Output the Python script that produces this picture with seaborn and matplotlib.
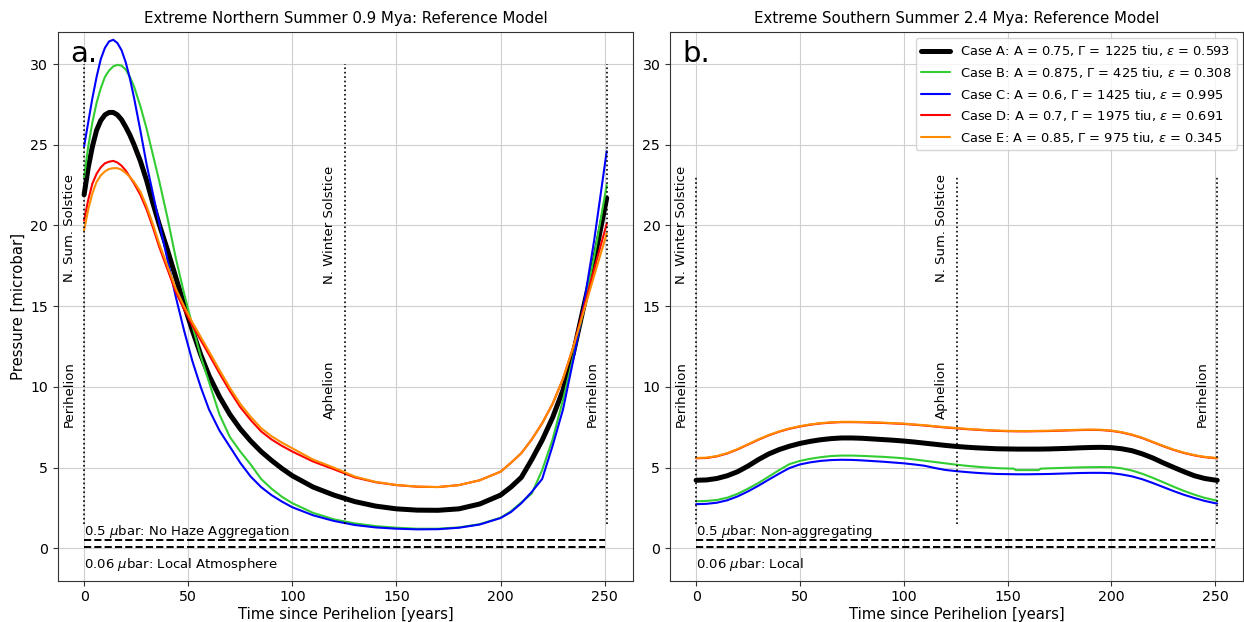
import numpy as np
import pandas as pd
import matplotlib
matplotlib.use("Agg")
import matplotlib.pyplot as plt
import seaborn as sns

# ---------------- data ----------------
# Northern-summer run (0.9 Mya): time since perihelion [yr] and pressure [microbar]
T_N = [0, 2, 4, 6, 8, 10, 12, 14, 16, 18, 20, 22, 24, 27, 30, 33, 36, 40, 44, 48, 52,
       56, 60, 65, 70, 75, 80, 85, 90, 95, 100, 110, 120, 130, 140, 150, 160, 170, 180,
       190, 200, 205, 210, 215, 220, 225, 230, 235, 240, 245, 251]
A_N = [21.9, 23.6, 24.9, 25.9, 26.5, 26.85, 27.0, 27.0, 26.85, 26.55, 26.1, 25.6, 25.0,
       24.0, 22.8, 21.4, 20.1, 18.5, 16.8, 15.1, 13.5, 12.0, 10.7, 9.4, 8.3, 7.4, 6.65,
       6.0, 5.45, 4.95, 4.5, 3.8, 3.3, 2.9, 2.62, 2.45, 2.37, 2.36, 2.45, 2.75, 3.3,
       3.8, 4.4, 5.5, 6.7, 8.1, 9.8, 12.1, 15.0, 17.8, 21.7]
B_N = [23.0, 24.9, 26.4, 27.6, 28.5, 29.2, 29.6, 29.85, 29.95, 29.9, 29.65, 29.2, 28.6,
       27.4, 26.0, 24.4, 22.8, 20.5, 18.0, 15.8, 13.8, 11.9, 10.3, 8.3, 6.9, 6.0, 5.2,
       4.3, 3.7, 3.2, 2.8, 2.2, 1.8, 1.55, 1.38, 1.28, 1.22, 1.22, 1.3, 1.5, 1.9,
       2.3, 2.85, 3.4, 4.85, 6.75, 9.2, 11.9, 14.9, 18.1, 22.5]
C_N = [24.9, 26.4, 27.9, 29.2, 30.3, 31.0, 31.4, 31.5, 31.3, 30.85, 30.1, 29.1, 27.9,
       25.9, 23.8, 22.0, 20.2, 17.9, 15.6, 13.5, 11.6, 10.0, 8.6, 7.3, 6.3, 5.3, 4.45,
       3.8, 3.3, 2.9, 2.55, 2.05, 1.7, 1.45, 1.3, 1.22, 1.18, 1.19, 1.28, 1.48, 1.88,
       2.25, 2.8, 3.5, 4.3, 6.35, 8.6, 11.7, 15.1, 19.1, 24.6]
D_N = [20.3, 21.6, 22.6, 23.2, 23.6, 23.85, 23.95, 24.0, 23.9, 23.7, 23.4, 23.0, 22.6,
       21.9, 21.0, 19.9, 18.7, 17.3, 15.9, 14.8, 13.8, 12.9, 12.0, 10.85, 9.75, 8.75,
       7.95, 7.25, 6.75, 6.35, 6.0, 5.38, 4.9, 4.4, 4.1, 3.92, 3.82, 3.8, 3.92, 4.22,
       4.75, 5.3, 5.9, 6.75, 7.75, 8.95, 10.5, 12.5, 14.9, 17.3, 20.1]
E_N = [19.7, 21.0, 22.0, 22.7, 23.1, 23.35, 23.5, 23.55, 23.55, 23.45, 23.25, 23.0, 22.7,
       22.1, 21.2, 20.1, 18.9, 17.5, 16.1, 15.0, 14.0, 13.1, 12.2, 11.05, 9.95, 8.95,
       8.15, 7.45, 6.95, 6.55, 6.2, 5.5, 5.0, 4.45, 4.12, 3.93, 3.83, 3.8, 3.92, 4.22,
       4.75, 5.3, 5.9, 6.75, 7.75, 8.95, 10.5, 12.5, 14.7, 16.9, 19.5]

# Southern-summer run (2.4 Mya)
T_S = [0, 5, 10, 15, 20, 25, 30, 35, 40, 45, 50, 55, 60, 65, 70, 75, 80, 85, 90, 95,
       100, 105, 110, 115, 120, 125, 130, 135, 140, 145, 150, 155, 160, 165, 170, 175,
       180, 185, 190, 195, 200, 205, 210, 215, 220, 225, 230, 235, 240, 245, 250, 251]
A_S = [4.22, 4.24, 4.33, 4.5, 4.75, 5.1, 5.5, 5.85, 6.12, 6.33, 6.5, 6.63, 6.73, 6.8,
       6.84, 6.84, 6.82, 6.78, 6.74, 6.7, 6.65, 6.59, 6.52, 6.45, 6.38, 6.32, 6.27,
       6.23, 6.2, 6.17, 6.16, 6.15, 6.15, 6.15, 6.16, 6.18, 6.2, 6.23, 6.25, 6.26,
       6.24, 6.17, 6.05, 5.85, 5.6, 5.3, 5.02, 4.75, 4.5, 4.33, 4.23, 4.22]
T_S_B = [0, 5, 10, 15, 20, 25, 30, 35, 40, 45, 50, 55, 60, 65, 70, 75, 80, 85, 90, 95,
         100, 105, 110, 115, 120, 125, 130, 135, 140, 145, 150, 153, 154, 165, 166, 170,
         175, 180, 185, 190, 195, 200, 205, 210, 215, 220, 225, 230, 235, 240, 245, 250, 251]
B_S = [2.92, 2.94, 3.0, 3.14, 3.38, 3.7, 4.05, 4.45, 4.85, 5.22, 5.42, 5.55, 5.65, 5.72,
       5.75, 5.75, 5.73, 5.7, 5.67, 5.63, 5.58, 5.51, 5.43, 5.35, 5.27, 5.19, 5.12,
       5.06, 5.01, 4.97, 4.95, 4.94, 4.85, 4.85, 4.94, 4.96, 4.98, 5.0, 5.02, 5.03,
       5.04, 5.03, 4.96, 4.82, 4.62, 4.37, 4.1, 3.82, 3.56, 3.33, 3.13, 2.98, 2.96]
C_S = [2.74, 2.76, 2.83, 2.98, 3.22, 3.53, 3.88, 4.26, 4.63, 4.98, 5.2, 5.33, 5.42, 5.47,
       5.49, 5.48, 5.45, 5.41, 5.37, 5.32, 5.27, 5.2, 5.12, 4.98, 4.86, 4.79, 4.73,
       4.68, 4.64, 4.61, 4.6, 4.59, 4.59, 4.6, 4.61, 4.63, 4.65, 4.67, 4.68, 4.68,
       4.66, 4.58, 4.46, 4.28, 4.05, 3.8, 3.55, 3.32, 3.12, 2.94, 2.8, 2.78]
D_S = [5.58, 5.6, 5.7, 5.88, 6.13, 6.43, 6.73, 7.0, 7.23, 7.41, 7.55, 7.66, 7.74, 7.79,
       7.82, 7.82, 7.81, 7.79, 7.77, 7.74, 7.71, 7.66, 7.61, 7.55, 7.49, 7.44, 7.39,
       7.35, 7.31, 7.28, 7.26, 7.25, 7.25, 7.26, 7.27, 7.29, 7.31, 7.33, 7.34, 7.33,
       7.28, 7.18, 7.03, 6.83, 6.58, 6.33, 6.1, 5.91, 5.76, 5.65, 5.59, 5.58]
E_S = [5.6, 5.62, 5.72, 5.9, 6.15, 6.45, 6.75, 7.02, 7.25, 7.43, 7.57, 7.68, 7.76, 7.81,
       7.84, 7.84, 7.83, 7.81, 7.79, 7.76, 7.73, 7.68, 7.63, 7.57, 7.51, 7.46, 7.41,
       7.37, 7.33, 7.3, 7.28, 7.27, 7.27, 7.28, 7.29, 7.31, 7.33, 7.35, 7.36, 7.35,
       7.3, 7.2, 7.05, 6.85, 6.6, 6.35, 6.12, 5.93, 5.78, 5.67, 5.61, 5.6]

CASE_LABELS = [
    r"Case A: A = 0.75, Γ = 1225 tiu, $\epsilon$ = 0.593",
    r"Case B: A = 0.875, Γ = 425 tiu, $\epsilon$ = 0.308",
    r"Case C: A = 0.6, Γ = 1425 tiu, $\epsilon$ = 0.995",
    r"Case D: A = 0.7, Γ = 1975 tiu, $\epsilon$ = 0.691",
    r"Case E: A = 0.85, Γ = 975 tiu, $\epsilon$ = 0.345",
]
CASE_COLORS = ["black", "limegreen", "blue", "red", "darkorange"]
CASE_WIDTHS = [3.6, 1.5, 1.5, 1.5, 1.5]

NORTH = [(T_N, A_N), (T_N, B_N), (T_N, C_N), (T_N, D_N), (T_N, E_N)]
SOUTH = [(T_S, A_S), (T_S_B, B_S), (T_S, C_S), (T_S, D_S), (T_S, E_S)]

TITLES = ["Extreme Northern Summer 0.9 Mya: Reference Model",
          "Extreme Southern Summer 2.4 Mya: Reference Model"]

# ---------------- style ----------------
sns.set_style("ticks", {"axes.grid": True, "grid.color": "#cfcfcf",
                        "axes.edgecolor": "#333333", "xtick.color": "#333333",
                        "ytick.color": "#333333", "text.color": "black",
                        "axes.labelcolor": "black"})
plt.rcParams["font.family"] = ["DejaVu Sans"]
plt.rcParams["mathtext.fontset"] = "dejavusans"

fig = plt.figure(figsize=(12.44, 6.22), dpi=100)
axL = fig.add_axes([0.0466, 0.0664, 0.4622, 0.8826])
axR = fig.add_axes([0.5386, 0.0664, 0.4609, 0.8826])


def draw_cases(ax, series, with_labels):
    for (t, v), lab, col, lw in zip(series, CASE_LABELS, CASE_COLORS, CASE_WIDTHS):
        df = pd.DataFrame({"t": t, "p": v})
        sns.lineplot(data=df, x="t", y="p", ax=ax, color=col, linewidth=lw,
                     label=lab if with_labels else None, sort=False)


def decorate(ax, top, title, letter, hi_text, lo_text, marks):
    # orbital event markers
    for x in (0, 125.5, 251):
        ax.plot([x, x], [1.5, top], color="black", linestyle=":", linewidth=1.2)
    ax.hlines([0.5, 0.06], 0, 250, colors="black", linestyles="--", linewidth=1.4)
    ax.text(0, 0.85, hi_text, fontsize=9.5, va="baseline", ha="left")
    ax.text(0, -1.2, lo_text, fontsize=9.5, va="baseline", ha="left")
    for x, y, s in marks:
        ax.text(x, y, s, rotation=90, ha="center", va="bottom", fontsize=9.5)
    ax.text(0.022, 0.985, letter, transform=ax.transAxes, fontsize=21,
            va="top", ha="left")
    ax.set_xlim(-12.55, 263.6)
    ax.set_ylim(-2, 32)
    ax.set_xticks([0, 50, 100, 150, 200, 250])
    ax.set_yticks([0, 5, 10, 15, 20, 25, 30])
    ax.tick_params(labelsize=10.2, direction="out", length=3.5, pad=3.5,
                   labelcolor="black")
    ax.set_title(title, fontsize=10.8, pad=6)
    ax.set_xlabel("Time since Perihelion [years]", fontsize=10.7, labelpad=2)
    for sp in ax.spines.values():
        sp.set_visible(True)


draw_cases(axL, NORTH, False)
draw_cases(axR, SOUTH, True)

decorate(axL, 30, TITLES[0], "a.",
         r"0.5 $\mu$bar: No Haze Aggregation", r"0.06 $\mu$bar: Local Atmosphere",
         [(-7, 16.5, "N. Sum. Solstice"), (-7, 7.55, "Perihelion"),
          (118, 16.4, "N. Winter Solstice"), (118, 8.0, "Aphelion"),
          (244, 7.55, "Perihelion")])
decorate(axR, 23, TITLES[1], "b.",
         r"0.5 $\mu$bar: Non-aggregating", r"0.06 $\mu$bar: Local",
         [(-7, 16.4, "N. Winter Solstice"), (-7, 7.55, "Perihelion"),
          (118, 16.5, "N. Sum. Solstice"), (118, 8.0, "Aphelion"),
          (244, 7.55, "Perihelion")])

axL.set_ylabel("Pressure [microbar]", fontsize=10.7, labelpad=3)
axR.set_ylabel("")
axR.legend(loc="upper right", fontsize=9.4, frameon=True, framealpha=0.8,
           edgecolor="#cccccc", handlelength=2.2)

fig.savefig("out.png", dpi=100)
